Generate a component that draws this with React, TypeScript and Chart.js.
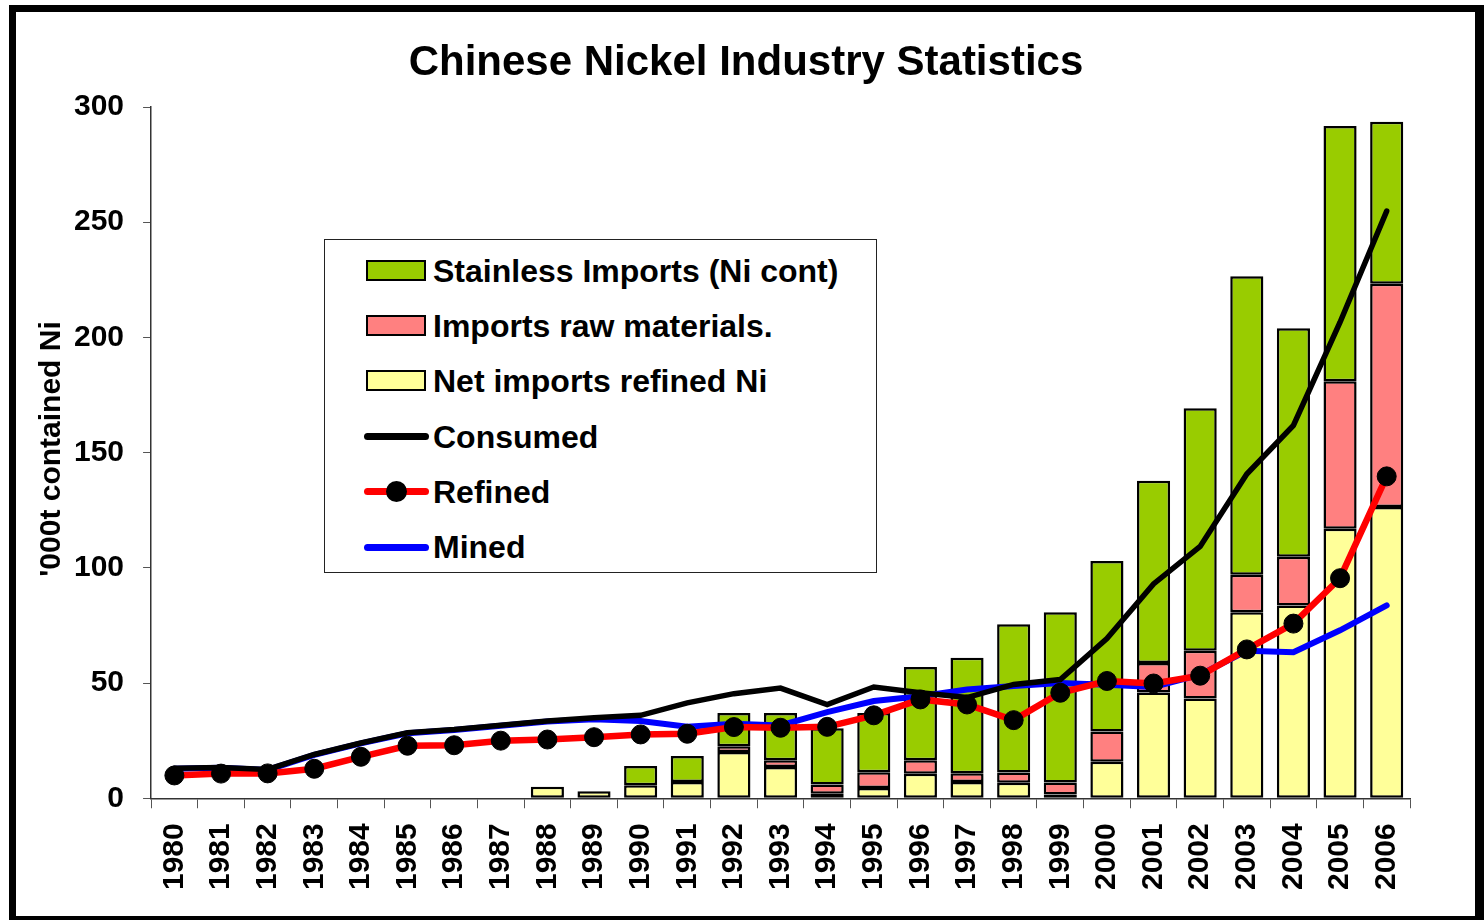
import React, { useEffect, useRef } from "react";
import { Chart, registerables } from "chart.js";

Chart.register(...registerables);

const FONT = "'Liberation Sans', Arial, Helvetica, sans-serif";

const titleText = "Chinese Nickel Industry Statistics";
const yAxisTitle = "'000t contained Ni";

const years = [
  "1980", "1981", "1982", "1983", "1984", "1985", "1986", "1987", "1988", "1989",
  "1990", "1991", "1992", "1993", "1994", "1995", "1996", "1997", "1998", "1999",
  "2000", "2001", "2002", "2003", "2004", "2005", "2006",
];

// stacked bars (bottom -> top)
const netImportsRefined = [
  null, null, null, null, null, null, null, null, 5, 3,
  5.7, 7.1, 20.1, 13.6, 2, 4.5, 10.6, 7.1, 6.7, 1.6,
  15.8, 45.9, 43.3, 80.7, 83.7, 117, 126.4,
];
const importsRawMaterials = [
  null, null, null, null, null, null, null, null, null, null,
  null, null, 2.5, 2.9, 4, 6.8, 5.9, 3.8, 4.5, 5.2,
  13.2, 12.8, 20.7, 16.3, 21.1, 64, 96.9,
];
const stainlessImports = [
  null, null, null, null, null, null, null, null, null, null,
  8.3, 11.2, 14.4, 20.5, 24.4, 25.7, 40.5, 50.1, 64.3, 73.9,
  74, 79.1, 105.3, 129.5, 99.2, 110.8, 70.3,
];

// lines
const consumed = [
  13, 13.4, 12.5, 19, 24, 28.4, 29.8, 31.7, 33.5, 34.9,
  36, 41.4, 45.4, 47.8, 40.7, 48.3, 45.8, 43.7, 49.4, 51.5,
  69.3, 93, 109.3, 140.7, 161.8, 206.6, 254.8,
];
const refined = [
  9.9, 10.7, 10.8, 12.8, 18, 22.8, 23, 25, 25.5, 26.5,
  27.7, 28, 30.9, 30.6, 31, 36, 42.9, 40.7, 33.9, 45.8,
  50.9, 49.8, 53.2, 64.6, 75.8, 95.5, 139.7,
];
const mined = [
  12.8, 13.2, 12.3, 18.8, 23.8, 28.2, 29.6, 31.5, 33.3, 34.3,
  33.5, 31, 32.3, 31.6, 37.4, 42.2, 44.3, 47.2, 48.7, 50,
  49.3, 48.3, 53.6, 64, 63.4, 72.9, 83.7,
];

const GREEN = "#99CC00";
const PINK = "#FF8080";
const YELLOW = "#FFFF99";

const legendItems = [
  { label: "Stainless Imports (Ni cont)", kind: "box", color: GREEN },
  { label: "Imports raw materials.", kind: "box", color: PINK },
  { label: "Net imports refined Ni", kind: "box", color: YELLOW },
  { label: "Consumed", kind: "line", color: "#000000" },
  { label: "Refined", kind: "marker", color: "#FF0000" },
  { label: "Mined", kind: "line", color: "#0000FF" },
];

export default function App() {
  const canvasRef = useRef<HTMLCanvasElement | null>(null);

  useEffect(() => {
    const canvas = canvasRef.current;
    if (!canvas) return;
    const tickFont = { family: FONT, size: 30, weight: "bold" as const };
    const barCommon = {
      type: "bar" as const,
      stack: "bars",
      order: 10,
      borderColor: "#000000",
      borderWidth: 2.5,
      borderSkipped: false as const,
      barPercentage: 0.71,
      categoryPercentage: 1.0,
    };
    const chart = new Chart(canvas, {
      type: "bar",
      data: {
        labels: years,
        datasets: [
          { ...barCommon, label: "Net imports refined Ni", data: netImportsRefined, backgroundColor: YELLOW },
          { ...barCommon, label: "Imports raw materials.", data: importsRawMaterials, backgroundColor: PINK },
          { ...barCommon, label: "Stainless Imports (Ni cont)", data: stainlessImports, backgroundColor: GREEN },
          {
            type: "line",
            label: "Mined",
            data: mined,
            stack: "mined",
            order: 3,
            borderColor: "#0000FF",
            borderWidth: 6,
            borderCapStyle: "round",
            pointRadius: 0,
            tension: 0,
            fill: false,
          },
          {
            type: "line",
            label: "Refined",
            data: refined,
            stack: "refined",
            order: 2,
            borderColor: "#FF0000",
            borderWidth: 6.5,
            borderCapStyle: "round",
            pointRadius: 9.5,
            pointBorderWidth: 1,
            pointBackgroundColor: "#000000",
            pointBorderColor: "#000000",
            tension: 0,
            fill: false,
          },
          {
            type: "line",
            label: "Consumed",
            data: consumed,
            stack: "consumed",
            order: 1,
            borderColor: "#000000",
            borderWidth: 5.5,
            borderCapStyle: "round",
            pointRadius: 0,
            tension: 0,
            fill: false,
          },
        ] as any,
      },
      options: {
        responsive: false,
        animation: false,
        events: [],
        layout: { padding: { left: 55, right: 74, top: 107, bottom: 15 } },
        plugins: {
          legend: { display: false },
          title: { display: false },
          tooltip: { enabled: false },
        },
        scales: {
          x: {
            stacked: true,
            offset: true,
            grid: {
              offset: true,
              drawOnChartArea: false,
              drawTicks: true,
              tickLength: 10,
              color: "#555555",
              lineWidth: 1,
            },
            border: { display: true, color: "#333333", width: 1.5 },
            ticks: {
              minRotation: 90,
              maxRotation: 90,
              autoSkip: false,
              padding: 15,
              color: "#000000",
              font: tickFont,
            },
          },
          y: {
            stacked: true,
            min: 0,
            max: 300,
            grid: {
              drawOnChartArea: false,
              drawTicks: true,
              tickLength: 8,
              color: "#555555",
              lineWidth: 1,
            },
            border: { display: true, color: "#333333", width: 1.5 },
            ticks: {
              stepSize: 50,
              padding: 19,
              color: "#000000",
              font: tickFont,
            },
          },
        },
      } as any,
    });
    return () => chart.destroy();
  }, []);

  return (
    <div
      style={{
        position: "absolute",
        left: 0,
        top: 0,
        width: 1484,
        height: 920,
        overflow: "hidden",
        background: "#ffffff",
        fontFamily: FONT,
      }}
    >
      <canvas
        ref={canvasRef}
        width={1484}
        height={920}
        style={{ position: "absolute", left: 0, top: 0, width: 1484, height: 920 }}
      />
      <div
        style={{
          position: "absolute",
          left: 0,
          width: 1492,
          top: 40,
          height: 42,
          lineHeight: "42px",
          fontSize: 42,
          fontWeight: "bold",
          textAlign: "center",
          color: "#000",
          whiteSpace: "nowrap",
        }}
      >
        {titleText}
      </div>
      <div
        style={{
          position: "absolute",
          left: 50 - 200,
          top: 449 - 18,
          width: 400,
          height: 36,
          lineHeight: "36px",
          fontSize: 30,
          fontWeight: "bold",
          textAlign: "center",
          color: "#000",
          whiteSpace: "nowrap",
          transform: "rotate(-90deg)",
          transformOrigin: "50% 50%",
        }}
      >
        {yAxisTitle}
      </div>
      <div
        style={{
          position: "absolute",
          left: 324,
          top: 239,
          width: 553,
          height: 334,
          boxSizing: "border-box",
          border: "1px solid #222",
          background: "#ffffff",
        }}
      >
        {legendItems.map((it, i) => (
          <div
            key={it.label}
            style={{
              position: "absolute",
              left: 0,
              top: 15 + i * 55.2,
              height: 32,
              width: 540,
            }}
          >
            {it.kind === "box" && (
              <div
                style={{
                  position: "absolute",
                  left: 41,
                  top: 5,
                  width: 60,
                  height: 21,
                  boxSizing: "border-box",
                  border: "2px solid #000",
                  background: it.color,
                }}
              />
            )}
            {(it.kind === "line" || it.kind === "marker") && (
              <div
                style={{
                  position: "absolute",
                  left: 39,
                  top: 12.5,
                  width: 65,
                  height: 7,
                  borderRadius: 3.5,
                  background: it.color,
                }}
              />
            )}
            {it.kind === "marker" && (
              <div
                style={{
                  position: "absolute",
                  left: 61,
                  top: 5.5,
                  width: 21,
                  height: 21,
                  borderRadius: "50%",
                  background: "#000",
                }}
              />
            )}
            <div
              style={{
                position: "absolute",
                left: 108,
                top: 0,
                height: 32,
                lineHeight: "32px",
                fontSize: 32,
                fontWeight: "bold",
                color: "#000",
                whiteSpace: "nowrap",
              }}
            >
              {it.label}
            </div>
          </div>
        ))}
      </div>
      <div
        style={{
          position: "absolute",
          left: 9,
          top: 5,
          width: 1475,
          height: 918,
          boxSizing: "border-box",
          borderStyle: "solid",
          borderColor: "#000",
          borderWidth: "7px 9px 7px 7px",
          pointerEvents: "none",
        }}
      />
    </div>
  );
}
